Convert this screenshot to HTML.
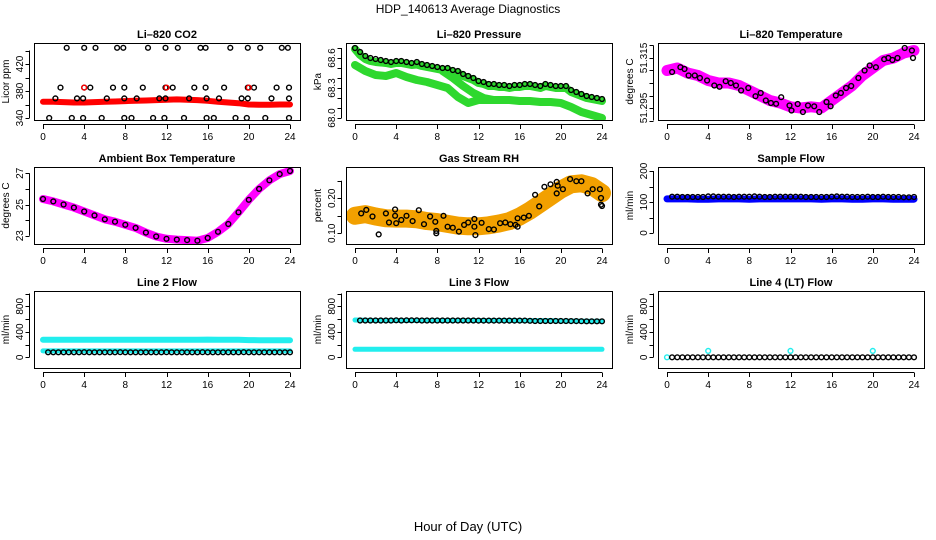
<!DOCTYPE html>
<html><head><meta charset="utf-8">
<style>
body{margin:0;background:#fff;}
svg{display:block;font-family:"Liberation Sans",sans-serif;}
</style></head>
<body>
<svg id="chart" width="936" height="540" viewBox="0 0 936 540" xmlns="http://www.w3.org/2000/svg">
<text x="468" y="13" text-anchor="middle" font-size="12">HDP_140613  Average Diagnostics</text>
<text x="468" y="531" text-anchor="middle" font-size="13">Hour of Day (UTC)</text>
</svg>
<script>
// ---------- data ----------
var hourTicks = [0,4,8,12,16,20,24];
var halfHours = [];
for (var i = 1; i <= 48; i++) halfHours.push(i * 0.5);
var hourly = [];
for (var j = 0; j <= 24; j++) hourly.push(j);

// CO2
var co2TopHours = [2.3,4.0,5.1,7.2,7.8,10.2,11.9,13.1,15.3,15.8,18.2,19.9,21.1,23.2,23.8];
var co2TopVals  = [444,444,444,444,444,444,444,444,444,444,444,444,444,444,444];
var co2MidHours = [1.7,4.0,4.6,6.8,7.9,9.7,11.9,12.6,14.7,15.8,17.6,19.9,20.5,22.7,23.9];
var co2MidVals  = [385,385,385,385,385,385,385,385,385,385,385,385,385,385,385];
var co2LowHours = [1.2,3.3,3.9,6.2,7.9,9.1,11.3,11.9,14.2,15.9,17.1,19.3,19.9,22.2,23.9];
var co2LowVals  = [369,369,369,369,369,369,369,369,369,369,369,369,369,369,369];
var co2BotHours = [0.6,2.8,3.9,5.7,7.9,8.6,10.7,11.8,13.7,15.9,16.6,18.7,19.8,21.6,23.9];
var co2BotVals  = [340,340,340,340,340,340,340,340,340,340,340,340,340,340,340];
var co2RedPtHours = [4.0,12.0,20.0];
var co2RedPtVals  = [385,385,385];
var co2Band = [364,364,363.5,363,363,363.5,364,364.5,365,365.5,366,366.5,367,367.5,367,366.5,365.5,364,363,362,360,359.5,359.5,360,360];

// Pressure
var pressBlack = [68.70,68.66,68.62,68.60,68.59,68.58,68.57,68.56,68.57,68.57,68.56,68.55,68.56,68.54,68.53,68.52,68.51,68.50,68.50,68.48,68.47,68.44,68.42,68.40,68.37,68.36,68.34,68.34,68.33,68.33,68.32,68.33,68.33,68.34,68.34,68.33,68.32,68.34,68.33,68.32,68.32,68.32,68.28,68.26,68.24,68.22,68.21,68.20,68.19];
var pressUpperGreen = [68.69,68.63,68.59,68.57,68.56,68.555,68.55,68.54,68.55,68.55,68.54,68.53,68.535,68.52,68.51,68.50,68.49,68.48,68.48,68.46,68.45,68.42,68.40,68.38,68.35,68.34,68.32,68.32,68.31,68.31,68.30,68.31,68.31,68.32,68.32,68.31,68.30,68.32,68.31,68.30,68.30,68.30,68.26,68.24,68.22,68.20,68.19,68.18,68.17];
var pressLowHours = [0,1,2,3,4,5,6,7,8,9,10,11,12,13,14,15,16,17,18,19,20,21,22,23,24];
var pressLowVals  = [68.53,68.47,68.43,68.42,68.45,68.41,68.38,68.36,68.33,68.30,68.21,68.15,68.18,68.18,68.18,68.18,68.17,68.17,68.16,68.16,68.15,68.11,68.06,68.03,68.00];
var pressMidHours = [8.5,9.5,10.5,11.5,12.5,13.5];
var pressMidVals  = [68.47,68.40,68.32,68.25,68.20,68.18];

// Li-820 temperature
var tempHours = [0.5,1.3,1.7,2.1,2.7,3.2,3.9,4.6,5.1,5.7,6.2,6.7,7.2,7.9,8.6,9.1,9.6,10.1,10.6,11.1,11.9,12.1,12.7,13.2,13.7,14.3,14.8,15.5,15.9,16.4,16.9,17.4,17.9,18.6,19.2,19.7,20.3,21.1,21.5,21.9,22.4,23.1,23.8,23.9];
var tempVals  = [51.3094,51.3113,51.3106,51.308,51.308,51.307,51.306,51.304,51.3035,51.3057,51.305,51.304,51.302,51.303,51.2997,51.301,51.298,51.297,51.2967,51.2993,51.296,51.294,51.2966,51.2934,51.296,51.2957,51.2934,51.2974,51.2957,51.300,51.301,51.303,51.3038,51.307,51.310,51.312,51.3113,51.3145,51.315,51.3142,51.315,51.319,51.318,51.315];
var tempBand  = [51.310,51.311,51.309,51.308,51.306,51.305,51.305,51.304,51.302,51.300,51.298,51.297,51.2955,51.295,51.2955,51.295,51.298,51.301,51.304,51.308,51.311,51.314,51.315,51.317,51.318];

// Ambient box temperature
var ambVals = [25.35,25.2,25.0,24.8,24.55,24.3,24.05,23.9,23.7,23.5,23.2,22.95,22.8,22.75,22.72,22.68,22.85,23.25,23.75,24.5,25.3,26.0,26.55,26.95,27.15];

// Gas stream RH
var rhHours = [0.6,1.1,1.7,2.3,3.0,3.3,4.0,3.9,3.9,4.5,5.0,5.6,6.2,6.7,7.3,7.8,7.9,7.9,8.6,9.0,9.5,10.1,10.6,11.0,11.6,11.6,11.7,12.3,13.0,13.5,14.1,14.6,15.1,15.6,15.8,15.8,16.4,16.9,17.5,17.9,18.4,19.0,19.6,19.6,19.7,20.2,20.9,21.5,22.0,22.6,23.1,23.8,23.9,23.9,24.0];
var rhVals  = [0.157,0.167,0.148,0.097,0.157,0.131,0.129,0.150,0.168,0.138,0.150,0.135,0.166,0.126,0.148,0.133,0.107,0.100,0.150,0.119,0.116,0.105,0.124,0.131,0.141,0.119,0.095,0.130,0.112,0.111,0.129,0.131,0.126,0.124,0.143,0.119,0.145,0.150,0.210,0.177,0.233,0.240,0.247,0.214,0.236,0.226,0.255,0.249,0.249,0.214,0.226,0.226,0.201,0.182,0.178];
var rhBand  = [0.15,0.155,0.148,0.143,0.142,0.142,0.14,0.135,0.132,0.127,0.122,0.12,0.12,0.123,0.128,0.135,0.148,0.165,0.185,0.205,0.225,0.24,0.243,0.235,0.215];

// Sample flow
var sampleBand  = [110,110,110,109,109,110,110,110,109,110,110,110,110,110,110,109,110,110,109,109,110,110,109,109,109];
var sampleBlack = [117,117,116,116,116,116,116,118,118,117,117,117,116,117,117,117,118,117,116,116,117,117,117,117,117,117,116,116,116,116,116,117,118,117,117,116,116,116,117,116,116,117,116,116,116,115,115,116];

// Line 2 flow
var line2Upper = [275,275,275,275,275,275,275,275,275,275,275,275,275,275,275,275,278,275,275,275,270,268,268,268,268];
var line2Lower = [100,100,100,100,100,100,100,100,100,100,100,100,100,100,100,100,100,100,100,100,100,100,100,100,100];
var line2Black = [78,78,78,78,78,78,78,80,78,78,78,78,78,78,80,78,78,78,78,78,78,78,78,80,78,78,78,78,78,78,80,78,78,78,78,78,78,78,80,78,78,78,78,78,78,78,78,78];

// Line 3 flow
var line3Upper = [585,580,578,578,578,578,578,578,578,578,578,578,578,578,578,578,575,575,575,575,570,570,568,565,565];
var line3Lower = [125,125,125,125,125,125,125,125,125,125,125,125,125,125,125,125,125,125,125,125,125,125,125,125,125];
var line3Black = [578,578,578,578,578,578,578,580,578,580,580,580,578,578,578,578,578,578,578,578,578,578,578,575,575,575,575,575,575,575,575,575,575,572,570,570,570,570,570,570,570,568,568,566,565,565,565,565];

// Line 4 flow
var line4Black = [0,0,0,0,0,0,0,0,0,0,0,0,0,0,0,0,0,0,0,0,0,0,0,0,0,0,0,0,0,0,0,0,0,0,0,0,0,0,0,0,0,0,0,0,0,0,0,0];
var line4CyanHours = [0,4,12,20];
var line4CyanVals  = [0,100,100,100];

// ---------- layout ----------
var colX = [34,346,658], rowY = [43,167,291], boxW = 266, boxH = 77;
var NS = 'http://www.w3.org/2000/svg';
var svg = document.getElementById('chart');

function mk(tag, parent){ var e = document.createElementNS(NS, tag); parent.appendChild(e); return e; }

function Panel(col,row,title,ylab,v0,p0,v1,p1,ticks,labels,fmt,name){
  this.bx = colX[col]; this.by = rowY[row];
  this.x0 = this.bx + 9; this.x1 = this.bx + 256;
  this.v0=v0; this.p0=p0; this.v1=v1; this.p1=p1;
  var g = mk('g', svg);
  
  
  this.g = g;
  var t = mk('text', g);
  
  
  t.setAttribute('x', this.bx + boxW/2); t.setAttribute('y', this.by - 5);
  t.setAttribute('text-anchor','middle'); t.setAttribute('font-size','11'); t.setAttribute('font-weight','bold');
  t.textContent = title;
  var yl = mk('text', g);
  
  
  var cy = this.by + boxH/2, lx = this.bx - 25;
  yl.setAttribute('transform','translate('+lx+','+cy+') rotate(-90)');
  yl.setAttribute('text-anchor','middle'); yl.setAttribute('font-size','10');
  yl.textContent = ylab;
  var box = mk('rect', g);
  
  
  box.setAttribute('x', this.bx+0.5); box.setAttribute('y', this.by+0.5);
  box.setAttribute('width', boxW); box.setAttribute('height', boxH);
  box.setAttribute('fill','none'); box.setAttribute('stroke','#000');
  var ax = mk('path', g);
  
  
  var d = 'M'+this.x0+' '+(this.by+boxH+4.5)+'H'+this.x1;
  for (var k=0;k<hourTicks.length;k++){ var xx = Math.round(this.X(hourTicks[k]))+0.5; d += 'M'+xx+' '+(this.by+boxH+4.5)+'V'+(this.by+boxH+9); }
  ax.setAttribute('d', d); ax.setAttribute('stroke','#000'); ax.setAttribute('fill','none');
  for (k=0;k<hourTicks.length;k++){
    var tl = mk('text', g);
    
    
    tl.setAttribute('x', this.X(hourTicks[k])); tl.setAttribute('y', this.by+boxH+20);
    tl.setAttribute('text-anchor','middle'); tl.setAttribute('font-size','10');
    tl.textContent = hourTicks[k];
  }
  var ay = mk('path', g);
  
  
  var axx = this.bx - 4.5;
  d = 'M'+axx+' '+this.Y(ticks[0])+'V'+this.Y(ticks[ticks.length-1]);
  for (k=0;k<ticks.length;k++){ var yy = Math.round(this.Y(ticks[k]))+0.5; d += 'M'+axx+' '+yy+'H'+(axx-4); }
  ay.setAttribute('d', d); ay.setAttribute('stroke','#000'); ay.setAttribute('fill','none');
  for (k=0;k<labels.length;k++){
    var yt = mk('text', g);
    
    
    var ty = this.Y(labels[k]);
    yt.setAttribute('transform','translate('+(this.bx-11)+','+ty+') rotate(-90)');
    yt.setAttribute('text-anchor','middle'); yt.setAttribute('font-size','10');
    yt.textContent = fmt(labels[k]);
  }
  this.layer = mk('g', g);
  var cp = mk('clipPath', g); cp.id = 'clip-' + name;
  var cr = mk('rect', cp);
  cr.setAttribute('x', this.bx+1); cr.setAttribute('y', this.by+1); cr.setAttribute('width', boxW-1); cr.setAttribute('height', boxH-1);
  this.layer.setAttribute('clip-path','url(#clip-'+name+')');
  
  
}
Panel.prototype.X = function(h){ return this.x0 + h*(this.x1-this.x0)/24; };
Panel.prototype.Y = function(v){ return this.p0 + (v-this.v0)*(this.p1-this.p0)/(this.v1-this.v0); };
Panel.prototype.band = function(hrs, vals, color, w, nm){
  var d = '';
  for (var i=0;i<hrs.length;i++) d += (i?'L':'M') + this.X(hrs[i]).toFixed(1)+' '+this.Y(vals[i]).toFixed(1);
  var p = mk('path', this.layer);
  
  
  p.setAttribute('d', d); p.setAttribute('fill','none'); p.setAttribute('stroke', color);
  p.setAttribute('stroke-width', w); p.setAttribute('stroke-linecap','round'); p.setAttribute('stroke-linejoin','round');
};
Panel.prototype.pts = function(hrs, vals, color, nm){
  for (var i=0;i<hrs.length;i++){
    var c = mk('circle', this.layer);
    
    
    c.setAttribute('cx', this.X(hrs[i]).toFixed(1)); c.setAttribute('cy', this.Y(vals[i]).toFixed(1));
    c.setAttribute('r', 2.4); c.setAttribute('fill','none'); c.setAttribute('stroke', color); c.setAttribute('stroke-width', 1.4);
  }
};

function f0(v){ return String(v); }
function f1(v){ return v.toFixed(1); }
function f2(v){ return v.toFixed(2); }
function f3(v){ return v.toFixed(3); }

// ---------- panels ----------
var p1 = new Panel(0,0,'Li\u2013820 CO2','Licor ppm',340,118,420,64,[340,360,380,400,420,440],[340,380,420],f0,'co2');
p1.band(hourly, co2Band, '#ff0000', 6, 'co2-red-band');
p1.pts(co2TopHours, co2TopVals, '#000', 'co2-point');
p1.pts(co2MidHours, co2MidVals, '#000', 'co2-point');
p1.pts(co2LowHours, co2LowVals, '#000', 'co2-point');
p1.pts(co2BotHours, co2BotVals, '#000', 'co2-point');
p1.pts(co2RedPtHours, co2RedPtVals, '#ff0000', 'co2-red-point');

var p2 = new Panel(1,0,'Li\u2013820 Pressure','kPa',68.0,118,68.6,58,[68.0,68.1,68.2,68.3,68.4,68.5,68.6,68.7],[68.0,68.3,68.6],f1,'pressure');
var pressHours = [0].concat(halfHours);
p2.band(pressHours, pressUpperGreen, '#2ed82e', 8, 'pressure-green-upper');
p2.band(pressLowHours, pressLowVals, '#2ed82e', 8, 'pressure-green-lower');
p2.band(pressMidHours, pressMidVals, '#2ed82e', 8, 'pressure-green-mid');
p2.pts(pressHours, pressBlack, '#000', 'pressure-point');

var p3 = new Panel(2,0,'Li\u2013820 Temperature','degrees C',51.295,108,51.315,58,[51.29,51.295,51.3,51.305,51.31,51.315,51.32],[51.295,51.315],f3,'li820-temp');
p3.band(hourly, tempBand, '#ff00ff', 11, 'li820-temp-magenta-band');
p3.pts(tempHours, tempVals, '#000', 'li820-temp-point');

var p4 = new Panel(0,1,'Ambient Box Temperature','degrees C',23,235.7,27,173.3,[23,24,25,26,27],[23,25,27],f0,'ambient-temp');
p4.band(hourly, ambVals, '#ff00ff', 8, 'ambient-temp-magenta-band');
p4.pts(hourly, ambVals, '#000', 'ambient-temp-point');

var p5 = new Panel(1,1,'Gas Stream RH','percent',0.10,233.3,0.20,198.3,[0.10,0.15,0.20,0.25],[0.10,0.20],f2,'rh');
p5.band(hourly, rhBand, '#f2a000', 18, 'rh-orange-band');
p5.pts(rhHours, rhVals, '#000', 'rh-point');

var p6 = new Panel(2,1,'Sample Flow','ml/min',0,233,200,171,[0,50,100,150,200],[0,100,200],f0,'sample-flow');
p6.band(hourly, sampleBand, '#0000ff', 7, 'sample-flow-blue-band');
p6.pts(halfHours, sampleBlack, '#000', 'sample-flow-point');

var p7 = new Panel(0,2,'Line 2 Flow','ml/min',0,357.3,800,306.3,[0,200,400,600,800,1000],[0,400,800],f0,'line2-flow');
p7.band(hourly, line2Upper, '#22eeee', 6, 'line2-cyan-upper');
p7.band(hourly, line2Lower, '#22eeee', 5, 'line2-cyan-lower');
p7.pts(halfHours, line2Black, '#000', 'line2-point');

var p8 = new Panel(1,2,'Line 3 Flow','ml/min',0,357.3,800,306.3,[0,200,400,600,800,1000],[0,400,800],f0,'line3-flow');
p8.band(hourly, line3Upper, '#22eeee', 5, 'line3-cyan-upper');
p8.band(hourly, line3Lower, '#22eeee', 5, 'line3-cyan-lower');
p8.pts(halfHours, line3Black, '#000', 'line3-point');

var p9 = new Panel(2,2,'Line 4 (LT) Flow','ml/min',0,357.3,800,306.3,[0,200,400,600,800,1000],[0,400,800],f0,'line4-flow');
p9.pts(line4CyanHours, line4CyanVals, '#22eeee', 'line4-cyan-point');
p9.pts(halfHours, line4Black, '#000', 'line4-point');
</script>
</body></html>
